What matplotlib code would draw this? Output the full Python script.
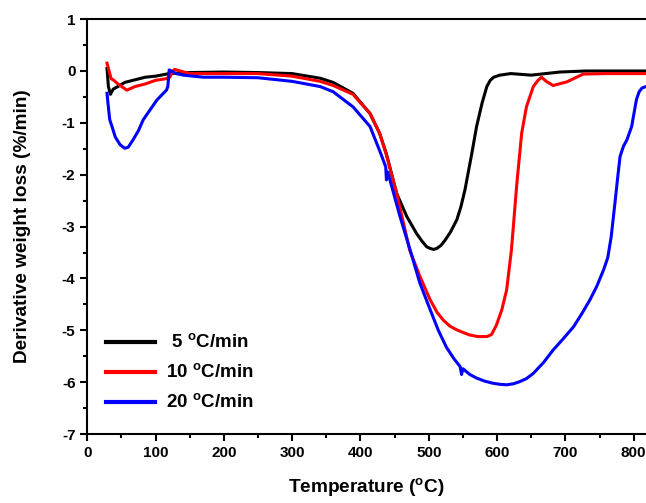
import numpy as np
import matplotlib.pyplot as plt
from matplotlib.ticker import MultipleLocator

plt.rcParams['font.family'] = ['Liberation Sans', 'DejaVu Sans']
plt.rcParams['font.weight'] = 'bold'
plt.rcParams['mathtext.fontset'] = 'custom'
plt.rcParams['mathtext.rm'] = 'Liberation Sans:bold'
plt.rcParams['mathtext.bf'] = 'Liberation Sans:bold'
plt.rcParams['axes.unicode_minus'] = False

# 5 C/min
t5 = [29, 31, 34, 38, 45, 55, 70, 85, 100, 120, 150, 200, 250, 300, 341, 360, 389,
      414, 428, 438, 453, 468, 482, 490, 497, 502, 507, 512, 518, 524, 532, 541, 547,
      553, 563, 570, 578, 585, 590, 595, 604, 620, 650, 692, 730, 780, 818]
d5 = [0.05, -0.3, -0.45, -0.35, -0.3, -0.22, -0.17, -0.12, -0.1, -0.05, -0.03, -0.02,
      -0.03, -0.05, -0.14, -0.22, -0.43, -0.82, -1.2, -1.6, -2.36, -2.81, -3.13,
      -3.28, -3.39, -3.42, -3.44, -3.42, -3.36, -3.26, -3.1, -2.87, -2.62, -2.29,
      -1.59, -1.07, -0.62, -0.30, -0.18, -0.12, -0.08, -0.05, -0.08, -0.02, 0.0, 0.0,
      0.0]

# 10 C/min
t10 = [29, 31, 35, 38, 45, 58, 70, 85, 100, 115, 121, 125, 128, 150, 200, 250, 300,
       341, 360, 389, 414, 428, 438, 453, 472, 487, 502, 512, 521, 531, 541, 550, 560,
       572, 585, 592, 599, 607, 614, 621, 629, 636, 643, 653, 660, 665, 672, 682, 702,
       726, 760, 800, 818]
d10 = [0.15, 0.05, -0.15, -0.17, -0.25, -0.37, -0.3, -0.25, -0.18, -0.15, -0.12, 0.0,
       0.03, -0.05, -0.05, -0.05, -0.1, -0.2, -0.28, -0.45, -0.82, -1.2, -1.62, -2.36,
       -3.45, -3.96, -4.41, -4.65, -4.8, -4.92, -4.99, -5.04, -5.09, -5.12, -5.12,
       -5.08, -4.9, -4.6, -4.22, -3.45, -2.16, -1.2, -0.69, -0.30, -0.18, -0.12, -0.2,
       -0.28, -0.21, -0.06, -0.05, -0.05, -0.05]

# 20 C/min
t20 = [29, 31, 33, 37, 41, 48, 55, 60, 67, 75, 82, 92, 102, 110, 116, 118, 120, 130,
       141, 170, 200, 250, 300, 341, 360, 389, 414, 430, 437, 438, 440, 458, 472, 487,
       502, 514, 526, 537, 546, 548, 550, 560, 570, 582, 594, 604, 614, 624, 633, 643,
       653, 668, 682, 697, 712, 724, 736, 746, 756, 762, 767, 773, 777, 780, 785, 790,
       797, 804, 808, 812, 818]
d20 = [-0.43, -0.7, -0.94, -1.1, -1.27, -1.42, -1.49, -1.47, -1.33, -1.15, -0.94,
       -0.75, -0.56, -0.45, -0.37, -0.3, 0.02, -0.05, -0.08, -0.12, -0.12, -0.13, -0.2,
       -0.3, -0.4, -0.69, -1.07, -1.6, -1.85, -2.1, -1.95, -2.81, -3.42, -4.09, -4.6,
       -5.0, -5.33, -5.55, -5.7, -5.85, -5.74, -5.85, -5.92, -5.98, -6.02, -6.04,
       -6.05, -6.03, -5.99, -5.93, -5.83, -5.62, -5.38, -5.16, -4.93, -4.68, -4.41,
       -4.15, -3.83, -3.6, -3.2, -2.49, -2.0, -1.65, -1.45, -1.33, -1.07, -0.55, -0.4,
       -0.33, -0.30]

labels = [r' 5 $^{\rm o}$C/min', r'10 $^{\rm o}$C/min', r'20 $^{\rm o}$C/min']

fig = plt.figure(figsize=(6.46, 5.03), dpi=100)
ax = fig.add_axes([0.135, 0.137, 0.865, 0.825])

ax.plot(t5, d5, color='black', lw=2.2, label=labels[0])
ax.plot(t10, d10, color='red', lw=2.2, label=labels[1])
ax.plot(t20, d20, color='blue', lw=2.2, label=labels[2])

ax.set_xlim(0, 818)
ax.set_ylim(-7, 1)
ax.xaxis.set_major_locator(MultipleLocator(100))
ax.xaxis.set_minor_locator(MultipleLocator(50))
ax.yaxis.set_major_locator(MultipleLocator(1))
ax.yaxis.set_minor_locator(MultipleLocator(0.5))
ax.tick_params(which='both', direction='out', width=1.5, labelsize=11)
ax.tick_params(which='major', length=5)
ax.tick_params(which='minor', length=3)
ax.spines['right'].set_visible(False)
for s in ['left', 'bottom', 'top']:
    ax.spines[s].set_linewidth(1.5)

ax.set_xlabel(r'Temperature ($^{\rm o}$C)', fontsize=13.7, fontweight='bold', labelpad=12)
ax.set_ylabel('Derivative weight loss (%/min)', fontsize=13.7, fontweight='bold',
              labelpad=22)

leg = ax.legend(loc='lower left', bbox_to_anchor=(0.02, 0.035), frameon=False,
                fontsize=13.5, handlelength=2.6, labelspacing=0.6, borderaxespad=0,
                handletextpad=0.6)
for line in leg.get_lines():
    line.set_linewidth(3)

fig.savefig('out.png', dpi=100)
